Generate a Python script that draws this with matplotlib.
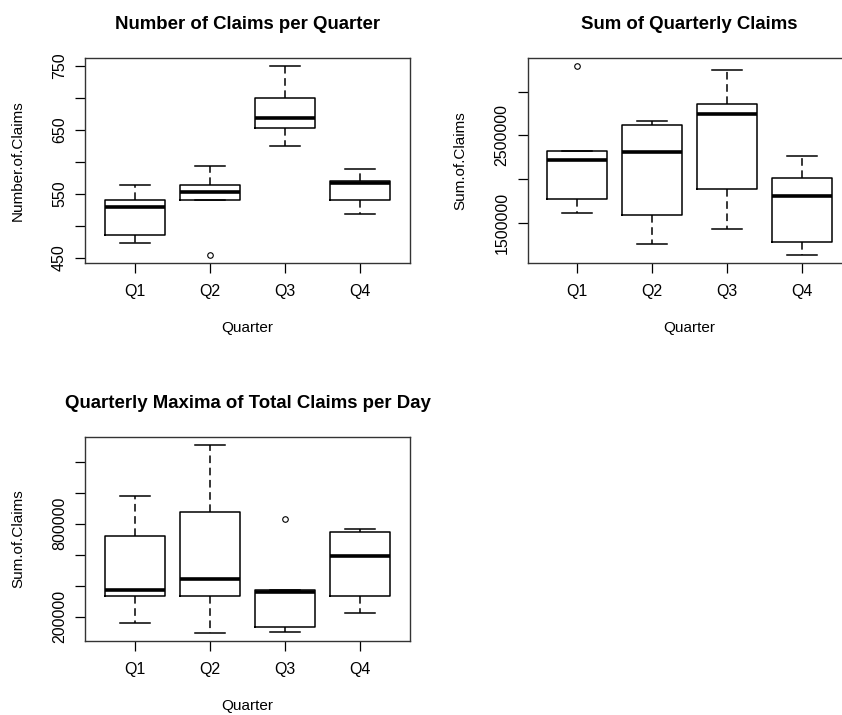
"""Boxplots of quarterly claims, redrawn from R base graphics"""

import matplotlib
matplotlib.use("Agg")
import matplotlib.pyplot as plt

plt.rcParams['font.family'] = ['Liberation Sans', 'DejaVu Sans']

quarters = ["Q1", "Q2", "Q3", "Q4"]

# Number of claims per quarter
n_whislo = [474, 540, 624, 519]
n_q1 = [486, 540, 652, 540]
n_med = [529, 553, 668, 567]
n_q3 = [540, 564, 699, 570]
n_whishi = [564, 594, 750, 589]
n_fliers = [[], [454], [], []]
n_ticks = [450, 500, 550, 600, 650, 700, 750]
n_ticklabels = ["450", "", "550", "", "650", "", "750"]

# Sum of quarterly claims
s_whislo = [1604000, 1250000, 1427000, 1123000]
s_q1 = [1769000, 1592000, 1881000, 1273000]
s_med = [2212000, 2308000, 2746000, 1800000]
s_q3 = [2323000, 2619000, 2858000, 2008000]
s_whishi = [2323000, 2665000, 3254000, 2262000]
s_fliers = [[3300000], [], [], []]
s_ticks = [1500000, 2000000, 2500000, 3000000]
s_ticklabels = ["1500000", "", "2500000", ""]

# Quarterly maxima of total claims per day
m_whislo = [161000, 92000, 101000, 224000]
m_q1 = [336000, 336000, 135000, 336000]
m_med = [370000, 446000, 358000, 595000]
m_q3 = [718000, 878000, 370000, 746000]
m_whishi = [977000, 1311000, 370000, 763000]
m_fliers = [[], [], [832000], []]
m_ticks = [200000, 400000, 600000, 800000, 1000000, 1200000]
m_ticklabels = ["200000", "", "", "800000", "", ""]


# Build the stats dicts that bxp wants
def make_stats(whislo, q1, med, q3, whishi, fliers):
    stats = []
    for i in range(len(quarters)):
        stats.append({'label': quarters[i], 'whislo': whislo[i], 'q1': q1[i],
                      'med': med[i], 'q3': q3[i], 'whishi': whishi[i],
                      'fliers': fliers[i]})
    return stats


# Draw one R-style boxplot panel
def draw_panel(ax, stats, title, ylabel, ticks, ticklabels):
    ax.bxp(stats, positions=[1, 2, 3, 4], widths=0.8, capwidths=0.4,
           boxprops={'color': 'black', 'linewidth': 1.1},
           whiskerprops={'color': 'black', 'linewidth': 1.1, 'linestyle': (0, (5, 3))},
           capprops={'color': 'black', 'linewidth': 1.1},
           medianprops={'color': 'black', 'linewidth': 2.6, 'solid_capstyle': 'butt'},
           flierprops={'marker': 'o', 'markersize': 4, 'markerfacecolor': 'none',
                       'markeredgecolor': 'black', 'markeredgewidth': 0.8})

    # R extends the range by 4% on each side
    lo = min([s['whislo'] for s in stats] + [f for s in stats for f in s['fliers']])
    hi = max([s['whishi'] for s in stats] + [f for s in stats for f in s['fliers']])
    ext = (hi - lo) * 0.04
    ax.set_ylim(lo - ext, hi + ext)
    ax.set_xlim(0.34, 4.66)

    ax.set_yticks(ticks)
    ax.set_yticklabels(ticklabels, rotation=90, va='center')
    ax.set_xticks([1, 2, 3, 4])
    ax.set_xticklabels(quarters)
    ax.tick_params(axis='x', direction='out', length=7, width=0.9, pad=8, labelsize=11.5)
    ax.tick_params(axis='y', direction='out', length=7, width=0.9, pad=6, labelsize=11.5)
    for sp in ax.spines.values():
        sp.set_linewidth(1.0)
        sp.set_color('#333333')

    ax.set_title(title, fontsize=13.4, fontweight='bold', pad=21)
    ax.set_xlabel("Quarter", fontsize=11)
    ax.set_ylabel(ylabel, fontsize=11)
    w = ax.get_position().width * 842
    h = ax.get_position().height * 715
    ax.xaxis.set_label_coords(0.5, -58 / h)
    ax.yaxis.set_label_coords(-60 / w, 0.5)


def main():
    fig = plt.figure(figsize=(8.42, 7.15), dpi=100)
    ax1 = fig.add_axes([85 / 842, 1 - 263 / 715, 325 / 842, 205 / 715])
    ax2 = fig.add_axes([527.7 / 842, 1 - 263 / 715, 324 / 842, 205 / 715])
    ax3 = fig.add_axes([85 / 842, 1 - 641 / 715, 325 / 842, 204 / 715])

    draw_panel(ax1, make_stats(n_whislo, n_q1, n_med, n_q3, n_whishi, n_fliers),
               "Number of Claims per Quarter", "Number.of.Claims", n_ticks, n_ticklabels)
    draw_panel(ax2, make_stats(s_whislo, s_q1, s_med, s_q3, s_whishi, s_fliers),
               "Sum of Quarterly Claims", "Sum.of.Claims", s_ticks, s_ticklabels)
    draw_panel(ax3, make_stats(m_whislo, m_q1, m_med, m_q3, m_whishi, m_fliers),
               "Quarterly Maxima of Total Claims per Day", "Sum.of.Claims", m_ticks, m_ticklabels)

    fig.savefig("out.png", dpi=100)


if __name__ == "__main__":
    main()
